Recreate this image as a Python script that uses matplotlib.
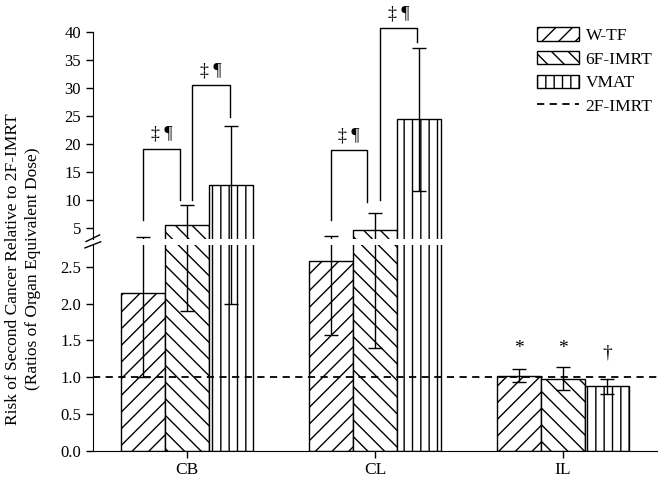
import matplotlib
matplotlib.use("Agg")
import matplotlib.pyplot as plt
from matplotlib.patches import Patch
from matplotlib.lines import Line2D
import numpy as np

plt.rcParams['font.family'] = ['Liberation Serif', 'DejaVu Serif']
plt.rcParams['hatch.linewidth'] = 1.0

# data
categories = ['CB', 'CL', 'IL']
series = ['W-TF', '6F-IMRT', 'VMAT']
wtf_mean = [2.15, 2.58, 1.02]
wtf_err = [1.15, 1.0, 0.09]
imrt6_mean = [5.5, 4.55, 0.98]
imrt6_err = [3.6, 3.15, 0.155]
vmat_mean = [12.6, 24.4, 0.875]
vmat_err = [10.6, 12.8, 0.10]
hatches = ['//', '\\\\', '||']
ref_level = 1.0  # 2F-IMRT

# significance brackets: (x left, x right, left leg bottom, right leg bottom, top, label)
brackets = [
    (-0.234, -0.037, 6.4, 10.0, 19.2, '‡ ¶'),
    (0.027, 0.229, 10.0, 24.8, 30.6, '‡ ¶'),
    (0.766, 0.956, 6.4, 9.7, 18.9, '‡ ¶'),
    (1.027, 1.223, 10.0, 38.3, 40.8, '‡ ¶'),
]
il_marks = ['*', '*', '†']
il_mark_y = [1.39, 1.39, 1.33]

means = [wtf_mean, imrt6_mean, vmat_mean]
errs = [wtf_err, imrt6_err, vmat_err]

fig = plt.figure(figsize=(6.63, 4.82), dpi=100)
ax_lo = fig.add_axes([0.140, 0.065, 0.851, 0.427])
ax_hi = fig.add_axes([0.140, 0.504, 0.851, 0.429])

x = np.arange(len(categories))
w = 0.234
for ax in (ax_lo, ax_hi):
    for i in range(3):
        pos = x + (i - 1) * w
        ax.bar(pos, means[i], w, color='white', edgecolor='black',
               hatch=hatches[i], linewidth=1.0)
        ax.errorbar(pos, means[i], yerr=errs[i], fmt='none', ecolor='black',
                    elinewidth=1.0, capsize=5, capthick=1.0)
    ax.set_xlim(-0.5, 2.5)
    ax.spines['top'].set_visible(False)
    ax.spines['right'].set_visible(False)
    ax.tick_params(axis='y', direction='out', length=5, labelsize=12, width=1)

ax_lo.axhline(ref_level, color='black', linestyle=(0, (4, 3)), linewidth=1.3)

ax_lo.set_ylim(0, 2.8)
ax_lo.set_yticks([0.0, 0.5, 1.0, 1.5, 2.0, 2.5])
ax_lo.set_yticklabels(['0.0', '0.5', '1.0', '1.5', '2.0', '2.5'])
ax_lo.set_xticks(x)
ax_lo.set_xticklabels(categories, fontsize=12.5)
ax_lo.tick_params(axis='x', direction='out', length=5, width=1, pad=3)

ax_hi.set_ylim(3, 40)
ax_hi.set_yticks([5, 10, 15, 20, 25, 30, 35, 40])
ax_hi.spines['bottom'].set_visible(False)
ax_hi.set_xticks([])

# break marks on the left spine
kw = dict(color='black', linewidth=1.0, clip_on=False)
ax_hi.plot([-0.012, 0.012], [-0.012, 0.02], transform=ax_hi.transAxes, **kw)
ax_lo.plot([-0.014, 0.014], [0.985, 1.015], transform=ax_lo.transAxes, **kw)

# brackets
for xl, xr, yl, yr, yt, lab in brackets:
    ax_hi.plot([xl, xl, xr, xr], [yl, yt, yt, yr], color='black',
               linewidth=1.0, clip_on=False)
    ax_hi.text((xl + xr) / 2, yt + 1.0, lab, ha='center', va='bottom',
               fontsize=13, clip_on=False)

# IL markers
for i in range(3):
    ax_lo.text(x[2] + (i - 1) * w, il_mark_y[i], il_marks[i], ha='center',
               va='center', fontsize=14)

handles = [Patch(facecolor='white', edgecolor='black', hatch=hatches[i],
                 label=series[i]) for i in range(3)]
handles.append(Line2D([0], [0], color='black', linestyle=(0, (4, 3)),
                      linewidth=1.3, label='2F-IMRT'))
fig.legend(handles=handles, loc='upper right', bbox_to_anchor=(1.0, 0.965),
           frameon=False, fontsize=12.5, handlelength=2.4, handleheight=0.8,
           labelspacing=0.4, handletextpad=0.4, borderaxespad=0.2)

fig.text(0.035, 0.442, 'Risk of Second Cancer Relative to 2F-IMRT\n(Ratios of Organ Equivalent Dose)',
         rotation=90, ha='center', va='center', multialignment='center', fontsize=12.5,
         linespacing=1.3)

fig.savefig('out.png', dpi=100)
